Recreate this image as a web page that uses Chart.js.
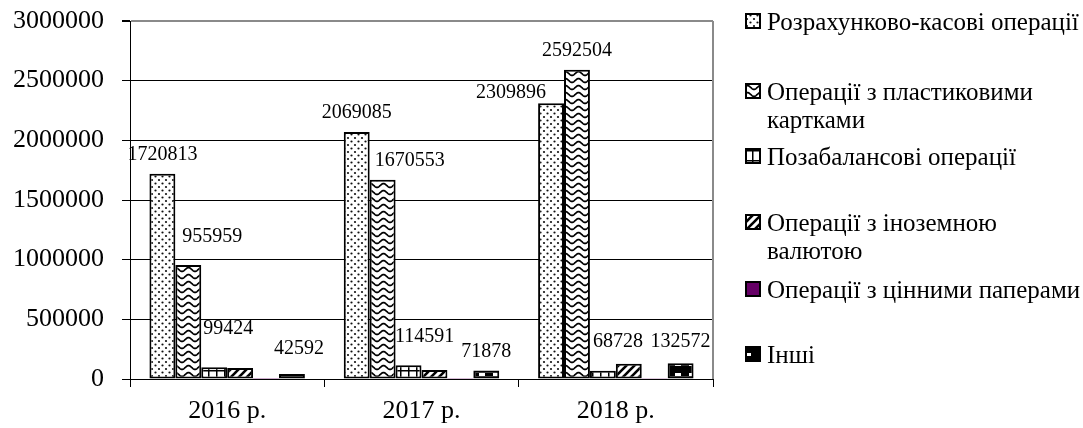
<!DOCTYPE html>
<html>
<head>
<meta charset="utf-8">
<script src="https://cdn.jsdelivr.net/npm/chart.js@4.4.1/dist/chart.umd.min.js"></script>
<style>
  html, body { margin: 0; padding: 0; background: #fff; }
  canvas { display: block; }
</style>
</head>
<body>
<canvas id="chart" width="1083" height="428"></canvas>
<script>
// Banking operations income by type, 2016–2018
const categories = ['2016 р.', '2017 р.', '2018 р.'];
const seriesNames = [
  'Розрахунково-касові операції',
  'Операції з пластиковими картками',
  'Позабалансові операції',
  'Операції з іноземною валютою',
  'Операції з цінними паперами',
  'Інші'
];
const settlementOps = [1720813, 2069085, 2309896];
const cardOps = [955959, 1670553, 2592504];
const offBalanceOps = [99424, 114591, 68728];
const currencyOps = [93000, 76000, 128000];
const securitiesOps = [1500, 2000, 2500];
const otherOps = [42592, 71878, 132572];
const yTickValues = [0, 500000, 1000000, 1500000, 2000000, 2500000, 3000000];
const labelledSeries = [0, 1, 2, 5];

const SERIF = '"Liberation Serif", "Times New Roman", serif';

// Offsets of value labels from the top centre of their bar (label centre)
const labelShift = {
  0: [[0, -21], [0, -21], [-40, -12]],
  1: [[24, -30], [27, -21], [0, -21]],
  2: [[14, -40], [16, -30], [15, -31]],
  5: [[7, -27], [0, -20], [0, -23]]
};

const canvas = document.getElementById('chart');
const mainCtx = canvas.getContext('2d');

function tile(w, h, paint) {
  const c = document.createElement('canvas');
  c.width = w; c.height = h;
  const g = c.getContext('2d');
  paint(g, w, h);
  return mainCtx.createPattern(c, 'repeat');
}

// Hatch fills for each series
const dotFill = tile(7, 7, (g, w, h) => {
  g.fillStyle = '#fff'; g.fillRect(0, 0, w, h);
  g.fillStyle = '#111';
  [[1.5, 1.5], [5, 5]].forEach(([x, y]) => { g.beginPath(); g.arc(x, y, 1.1, 0, Math.PI * 2); g.fill(); });
});
const waveFill = tile(13, 7, (g, w, h) => {
  g.fillStyle = '#fff'; g.fillRect(0, 0, w, h);
  g.strokeStyle = '#000'; g.lineWidth = 1.7;
  g.beginPath();
  for (let x = -1; x <= w + 1; x += 0.5) {
    const y = 3.5 + 1.9 * Math.cos(2 * Math.PI * x / w);
    if (x === -1) g.moveTo(x, y); else g.lineTo(x, y);
  }
  g.stroke();
});
const gridFill = tile(8, 10, (g, w, h) => {
  g.fillStyle = '#fff'; g.fillRect(0, 0, w, h);
  g.fillStyle = '#000';
  g.fillRect(0, 0, 1.5, h);
  g.fillRect(0, 0, w, 1.5);
});
const diagFill = tile(8, 8, (g, w, h) => {
  g.fillStyle = '#fff'; g.fillRect(0, 0, w, h);
  g.strokeStyle = '#000'; g.lineWidth = 2.6;
  [[0, 8, 8, 0], [-4, 4, 4, -4], [4, 12, 12, 4]].forEach(([a, b, c, d]) => {
    g.beginPath(); g.moveTo(a, b); g.lineTo(c, d); g.stroke();
  });
});
const otherFill = tile(14, 10, (g, w, h) => {
  g.fillStyle = '#000'; g.fillRect(0, 0, w, h);
  g.fillStyle = '#fff';
  g.fillRect(3, 3, 6, 3);
});

const fills = [dotFill, waveFill, gridFill, diagFill, '#660066', otherFill];
const seriesValues = [settlementOps, cardOps, offBalanceOps, currencyOps, securitiesOps, otherOps];

const datasets = seriesNames.map((name, i) => ({
  label: name,
  data: seriesValues[i],
  backgroundColor: fills[i],
  borderColor: '#000',
  borderWidth: i === 4 ? 0 : 2,
  borderSkipped: false,
  categoryPercentage: 0.8,
  barPercentage: 1.0
}));

const whiteBackground = {
  id: 'whiteBackground',
  beforeDraw(chart) {
    const c = chart.ctx;
    c.save(); c.fillStyle = '#fff'; c.fillRect(0, 0, chart.width, chart.height); c.restore();
  }
};

const plotFrame = {
  id: 'plotFrame',
  beforeDatasetsDraw(chart) {
    const { ctx: c, chartArea: a } = chart;
    c.save();
    c.strokeStyle = '#8a8a8a'; c.lineWidth = 2;
    c.beginPath(); c.moveTo(a.right, a.top); c.lineTo(a.right, a.bottom); c.stroke();
    c.restore();
  }
};

const valueLabels = {
  id: 'valueLabels',
  afterDatasetsDraw(chart) {
    const c = chart.ctx;
    c.save();
    c.font = '20px ' + SERIF;
    c.fillStyle = '#000';
    c.textAlign = 'center';
    c.textBaseline = 'alphabetic';
    labelledSeries.forEach(di => {
      const meta = chart.getDatasetMeta(di);
      meta.data.forEach((bar, i) => {
        const [dx, dy] = labelShift[di][i];
        c.fillText(String(chart.data.datasets[di].data[i]), bar.x + dx, bar.y + dy + 7);
      });
    });
    c.restore();
  }
};

// Legend at the right, with wrapped entries
const legendRows = [1, 71, 136, 202, 269, 334];
function wrapWords(c, text, maxWidth) {
  const words = text.split(' ');
  const lines = [];
  let line = '';
  words.forEach(w => {
    const test = line ? line + ' ' + w : w;
    if (line && c.measureText(test).width > maxWidth) { lines.push(line); line = w; }
    else line = test;
  });
  if (line) lines.push(line);
  return lines;
}
const sideLegend = {
  id: 'sideLegend',
  afterDraw(chart) {
    const { ctx: c, chartArea: a } = chart;
    const boxX = a.right + 33;
    const textX = a.right + 54;
    const box = 14;
    const lineGap = 28;
    c.save();
    c.font = '25px ' + SERIF;
    c.fillStyle = '#000';
    c.textAlign = 'left';
    c.textBaseline = 'alphabetic';
    chart.data.datasets.forEach((ds, i) => {
      const yc = a.top + legendRows[i];
      c.fillStyle = ds.backgroundColor;
      c.fillRect(boxX, yc - box / 2 - 1, box, box);
      c.strokeStyle = '#000'; c.lineWidth = 2;
      c.strokeRect(boxX, yc - box / 2 - 1, box, box);
      c.fillStyle = '#000';
      const lines = wrapWords(c, ds.label, chart.width - textX - 1);
      lines.forEach((ln, k) => c.fillText(ln, textX, yc + 8 + k * lineGap));
    });
    c.restore();
  }
};

new Chart(canvas, {
  type: 'bar',
  data: { labels: categories, datasets },
  plugins: [whiteBackground, plotFrame, valueLabels, sideLegend],
  options: {
    responsive: false,
    animation: false,
    layout: { padding: { left: 0, top: 21, right: 370, bottom: 0 } },
    plugins: { legend: { display: false }, tooltip: { enabled: false } },
    scales: {
      x: {
        offset: true,
        grid: {
          offset: true,
          drawOnChartArea: false,
          drawTicks: true,
          tickLength: 8,
          color: '#000',
          tickColor: '#000'
        },
        border: { color: '#000', width: 1 },
        ticks: { color: '#000', font: { family: SERIF, size: 26 }, padding: 9 },
        afterFit(s) { s.height = 49; s.paddingLeft = 0; s.paddingRight = 0; }
      },
      y: {
        min: 0,
        max: 3000000,
        afterBuildTicks(s) { s.ticks = yTickValues.map(v => ({ value: v })); },
        grid: {
          color: ctx => (ctx.tick && ctx.tick.value === 3000000 ? '#8a8a8a' : '#000'),
          lineWidth: ctx => (ctx.tick && ctx.tick.value === 3000000 ? 2 : 1),
          tickLength: 8,
          tickColor: '#000'
        },
        border: { color: '#000', width: 1 },
        ticks: {
          color: '#000',
          font: { family: SERIF, size: 26 },
          padding: 18,
          callback: v => String(v)
        },
        afterFit(s) { s.width = 130; s.paddingTop = 0; s.paddingBottom = 0; }
      }
    }
  }
});
</script>
</body>
</html>
